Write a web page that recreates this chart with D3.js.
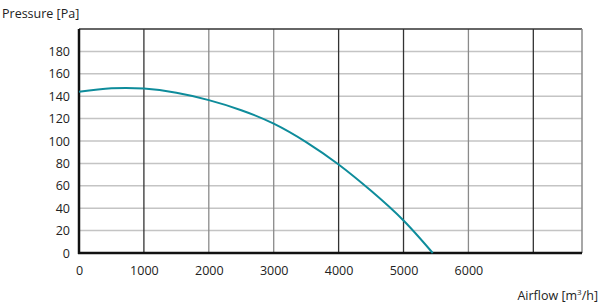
<!DOCTYPE html>
<html>
<head>
<meta charset="utf-8">
<script src="https://cdn.jsdelivr.net/npm/d3@7"></script>
<style>
  body { margin: 0; background: #fff; }
  svg text { font-family: "Open Sans", sans-serif; fill: #222; }
</style>
</head>
<body>
<svg id="chart" width="603" height="306"></svg>
<script>
// Fan curve
const airflow  = [0, 500, 1000, 1500, 2000, 2500, 3000, 3500, 4000, 4500, 5000, 5450];
const pressure = [144, 147, 146.8, 143, 136.5, 127.5, 115.5, 99, 79, 55.5, 29, 0];

const xTicks = [0, 1000, 2000, 3000, 4000, 5000, 6000];
const xGrid  = [1000, 2000, 3000, 4000, 5000, 6000, 7000];
const yTicks = [0, 20, 40, 60, 80, 100, 120, 140, 160, 180];
const yGrid  = [20, 40, 60, 80, 100, 120, 140, 160, 180];
const darkLines = [1000, 4000, 5000, 7000];

const margin = { top: 29, right: 21, bottom: 53, left: 79 };
const width = 603 - margin.left - margin.right,
      height = 306 - margin.top - margin.bottom;

const svg = d3.select("#chart");
const g = svg.append("g").attr("transform", `translate(${margin.left},${margin.top})`);

const x = d3.scaleLinear().domain([0, 7750]).range([0, width]);
const y = d3.scaleLinear().domain([0, 200]).range([height, 0]);

// horizontal grid
g.append("g")
  .selectAll("line")
  .data(yGrid)
  .enter()
  .append("line")
  .attr("x1", 0).attr("x2", width)
  .attr("y1", d => y(d)).attr("y2", d => y(d))
  .attr("stroke", "#c4c4c4")
  .attr("stroke-width", 1.5);

// vertical grid
g.append("g")
  .selectAll("line")
  .data(xGrid)
  .enter()
  .append("line")
  .attr("x1", d => x(d)).attr("x2", d => x(d))
  .attr("y1", 0).attr("y2", height)
  .attr("stroke", d => darkLines.includes(d) ? "#333" : "#8a8a8a")
  .attr("stroke-width", 1.3);

// top and right border
g.append("line")
  .attr("x1", 0).attr("x2", width).attr("y1", 0).attr("y2", 0)
  .attr("stroke", "#333").attr("stroke-width", 1.5);
g.append("line")
  .attr("x1", width).attr("x2", width).attr("y1", 0).attr("y2", height)
  .attr("stroke", "#8a8a8a").attr("stroke-width", 1.5);

// axes
const xAxis = g.append("g")
  .attr("transform", `translate(0,${height})`)
  .call(d3.axisBottom(x).tickValues(xTicks).tickSize(0).tickPadding(13).tickFormat(d3.format("d")));
xAxis.select(".domain").remove();
xAxis.selectAll("text").style("font-size", "12.5px").attr("fill", "#222");

const yAxis = g.append("g")
  .call(d3.axisLeft(y).tickValues(yTicks).tickSize(0).tickPadding(9).tickFormat(d3.format("d")));
yAxis.select(".domain").remove();
yAxis.selectAll("text").style("font-size", "12.5px").attr("fill", "#222");

// thick axis lines
g.append("line")
  .attr("x1", 0).attr("x2", 0).attr("y1", 0).attr("y2", height + 1)
  .attr("stroke", "#111").attr("stroke-width", 2.5);
g.append("line")
  .attr("x1", -1).attr("x2", width).attr("y1", height).attr("y2", height)
  .attr("stroke", "#111").attr("stroke-width", 2.5);

// curve
const line = d3.line()
  .x((d, i) => x(airflow[i]))
  .y(d => y(d))
  .curve(d3.curveNatural);

g.append("path")
  .datum(pressure)
  .attr("d", line)
  .attr("fill", "none")
  .attr("stroke", "#0e8c9b")
  .attr("stroke-width", 2);

// axis titles
svg.append("text")
  .attr("x", 2).attr("y", 18)
  .style("font-size", "12.5px")
  .text("Pressure [Pa]");

const xt = svg.append("text")
  .attr("x", 598).attr("y", 300)
  .attr("text-anchor", "end")
  .style("font-size", "12.5px");
xt.append("tspan").text("Airflow [m");
xt.append("tspan").attr("dy", -5).style("font-size", "8px").text("3");
xt.append("tspan").attr("dy", 5).text("/h]");
</script>
</body>
</html>
